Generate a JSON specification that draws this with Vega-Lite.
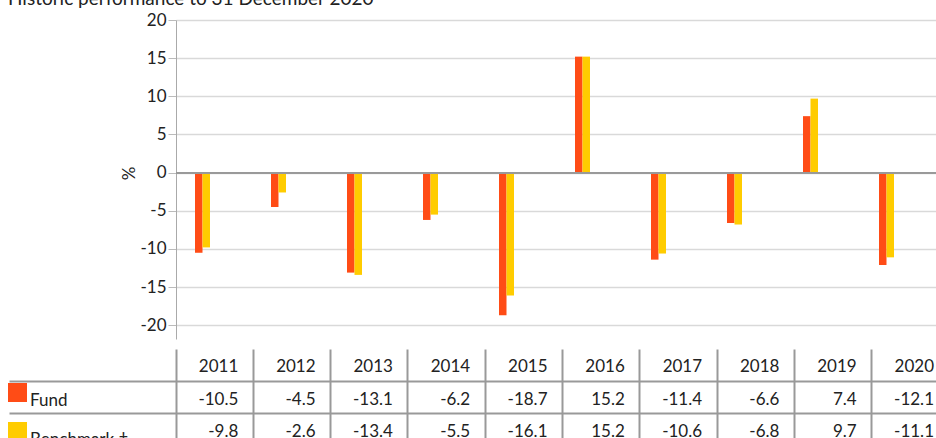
{
  "$schema": "https://vega.github.io/schema/vega-lite/v6.json",
  "padding": {"left": 8, "top": -10, "right": 0, "bottom": 0},
  "title": {"text": "Historic performance to 31 December 2020", "anchor": "start", "fontSize": 19, "fontWeight": "normal", "color": "#222", "offset": 2},
  "datasets": {
    "perf": [
      {"year": "2011", "series": "Fund", "value": -10.5},
      {"year": "2011", "series": "Benchmark †", "value": -9.8},
      {"year": "2012", "series": "Fund", "value": -4.5},
      {"year": "2012", "series": "Benchmark †", "value": -2.6},
      {"year": "2013", "series": "Fund", "value": -13.1},
      {"year": "2013", "series": "Benchmark †", "value": -13.4},
      {"year": "2014", "series": "Fund", "value": -6.2},
      {"year": "2014", "series": "Benchmark †", "value": -5.5},
      {"year": "2015", "series": "Fund", "value": -18.7},
      {"year": "2015", "series": "Benchmark †", "value": -16.1},
      {"year": "2016", "series": "Fund", "value": 15.2},
      {"year": "2016", "series": "Benchmark †", "value": 15.2},
      {"year": "2017", "series": "Fund", "value": -11.4},
      {"year": "2017", "series": "Benchmark †", "value": -10.6},
      {"year": "2018", "series": "Fund", "value": -6.6},
      {"year": "2018", "series": "Benchmark †", "value": -6.8},
      {"year": "2019", "series": "Fund", "value": 7.4},
      {"year": "2019", "series": "Benchmark †", "value": 9.7},
      {"year": "2020", "series": "Fund", "value": -12.1},
      {"year": "2020", "series": "Benchmark †", "value": -11.1}
    ]
  },
  "config": {
    "font": "Lato",
    "view": {"stroke": null},
    "locale": {"number": {"decimal": ".", "thousands": ",", "grouping": [3], "currency": ["", ""], "minus": "-"}},
    "legend": {"orient": "none", "legendX": -168, "legendY": 363}
  },
  "spacing": 10,
  "resolve": {"scale": {"x": "independent", "y": "independent", "color": "shared"}, "legend": {"color": "shared"}},
  "vconcat": [
    {
      "width": 760,
      "height": 319,
      "data": {"name": "perf"},
      "layer": [
        {
          "mark": {"type": "bar"},
          "encoding": {
            "x": {"field": "year", "type": "ordinal", "scale": {"paddingInner": 0, "paddingOuter": 0}, "axis": null},
            "xOffset": {"field": "series", "type": "nominal", "scale": {"domain": ["Fund", "Benchmark †"], "range": [19, 34]}},
            "y": {
              "field": "value", "type": "quantitative",
              "scale": {"domain": [-21.8, 20], "nice": false, "zero": false},
              "axis": {
                "values": [-20, -15, -10, -5, 0, 5, 10, 15, 20], "tickCount": 20, "labelOverlap": false,
                "title": "%", "titleFontSize": 17, "titleFontWeight": "normal", "titleColor": "#222",
                "titleX": -47, "titleY": 153, "titleBaseline": "middle", "titleAlign": "center",
                "labelFontSize": 17, "labelColor": "#222", "labelPadding": 2,
                "tickSize": 8, "tickColor": "#bbb", "domainColor": "#aaa",
                "gridColor": "#d9d9d9", "gridWidth": 1.5
              }
            },
            "color": {
              "field": "series", "type": "nominal",
              "scale": {"domain": ["Fund", "Benchmark †"], "range": ["#FF4C16", "#FFCC00"]},
              "legend": {
                "title": null, "symbolType": "square", "symbolSize": 361, "symbolStrokeWidth": 0,
                "symbolOpacity": 1, "labelOffset": 3, "rowPadding": 13, "labelFontSize": 17,
                "labelColor": "#222", "labelBaseline": "top"
              }
            }
          }
        },
        {
          "mark": {"type": "rule", "color": "#999", "strokeWidth": 1.5},
          "encoding": {"y": {"datum": 0}}
        }
      ]
    },
    {
      "width": 773,
      "height": 97,
      "data": {"name": "perf"},
      "layer": [
        {
          "mark": {"type": "text", "align": "right", "baseline": "middle", "dx": -15, "dy": 2, "fontSize": 17, "color": "#222"},
          "encoding": {
            "x": {
              "field": "year", "type": "ordinal", "bandPosition": 1,
              "scale": {"type": "band", "paddingInner": 0, "paddingOuter": 0},
              "axis": {"orient": "top", "title": null, "labels": false, "ticks": false, "domain": false, "grid": true, "bandPosition": 0, "gridColor": "#999", "gridWidth": 2}
            },
            "y": {
              "field": "series", "type": "nominal",
              "scale": {"type": "band", "domain": ["Year", "Fund", "Benchmark †"], "paddingInner": 0, "paddingOuter": 0},
              "axis": {"values": ["Fund", "Benchmark †"], "bandPosition": 0, "title": null, "labels": false, "domain": false, "ticks": true, "tickSize": 167, "tickColor": "#999", "tickWidth": 2, "grid": true, "gridColor": "#999", "gridWidth": 2}
            },
            "text": {"field": "value", "type": "quantitative", "format": ".1f"}
          }
        },
        {
          "transform": [{"filter": "datum.series === 'Fund'"}],
          "mark": {"type": "text", "align": "right", "baseline": "middle", "dx": -15, "dy": 2, "fontSize": 17, "color": "#222"},
          "encoding": {
            "x": {"field": "year", "type": "ordinal", "bandPosition": 1},
            "y": {"datum": "Year"},
            "text": {"field": "year", "type": "nominal"}
          }
        }
      ]
    }
  ]
}
